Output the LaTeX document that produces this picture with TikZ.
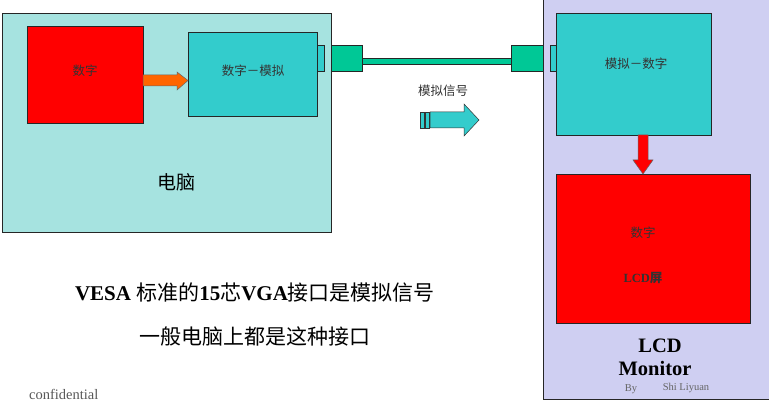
\documentclass[tikz,border=0pt]{standalone}
\usepackage{fontspec}
\setmainfont{Liberation Serif}
\newfontfamily\cjk{Noto Sans CJK SC}
\begin{document}
\begin{tikzpicture}[x=1pt,y=-1pt,
  box/.style={draw=black!85,line width=0.8pt,inner sep=0pt,outer sep=0pt},
  lbl/.style={inner sep=0pt,font=\cjk\fontsize{12.5}{14}\selectfont,text=black!80}]
\definecolor{pcbg}{HTML}{A6E3E0}
\definecolor{monbg}{HTML}{CFCFF2}
\definecolor{cyanbox}{HTML}{33CCCC}
\definecolor{conn}{HTML}{00C896}
\definecolor{orangearr}{HTML}{FF6600}
\useasboundingbox (0,0) rectangle (769,403);
\begin{scope}
\clip (0,0) rectangle (769,403);
\fill[white] (0,0) rectangle (769,403);
% computer
\node[box,fill=pcbg,minimum width=329pt,minimum height=219pt,anchor=north west] (pc) at (2,13) {};
\node[inner sep=0pt,font=\cjk\fontsize{19}{22}\selectfont] (pclbl) at (176,182) {电脑};
\node[box,fill=red,minimum width=116pt,minimum height=97pt,anchor=north west] (dig) at (27,26) {};
\node[lbl] (diglbl) at (85,71) {数字};
\node[box,fill=cyanbox,minimum width=129pt,minimum height=84pt,anchor=north west] (da) at (188,32) {};
\node[lbl] (dalbl) at (253,71) {数字－模拟};
\node[box,fill=cyanbox,minimum width=7pt,minimum height=26pt,anchor=north west] (tab1) at (317,45) {};
% orange arrow
\filldraw[fill=orangearr,draw=black!60,line width=0.5pt]
  (143,75) -- (177,75) -- (177,72) -- (188,80.5) -- (177,90) -- (177,86) -- (143,86) -- cycle;
% monitor
\node[box,fill=monbg,minimum width=240pt,minimum height=410pt,anchor=south west] (mon) at (543,399) {};
\node[box,fill=cyanbox,minimum width=155pt,minimum height=122pt,anchor=north west] (ad) at (556,13) {};
\node[lbl] (adlbl) at (636,64) {模拟－数字};
\node[box,fill=cyanbox,minimum width=6pt,minimum height=26pt,anchor=north west] (tab2) at (550,45) {};
\node[box,fill=red,minimum width=194pt,minimum height=149pt,anchor=north west] (lcd) at (556,174) {};
\node[lbl] (lcdl1) at (643,233) {数字};
\node[inner sep=0pt,font=\bfseries\fontsize{12.5}{14}\selectfont,text=black!80] (lcdl2) at (643,278) {LCD{\cjk 屏}};
% red down arrow
\filldraw[fill=red,draw=black!60,line width=0.5pt]
  (638,135) -- (648,135) -- (648,160) -- (653,160) -- (643,174) -- (633,160) -- (638,160) -- cycle;
\node[inner sep=0pt,font=\bfseries\fontsize{20.5}{22}\selectfont] (lcdt) at (660,346) {LCD};
\node[inner sep=0pt,font=\bfseries\fontsize{20.5}{22}\selectfont] (mont) at (655,368) {Monitor};
\node[inner sep=0pt,font=\fontsize{10.5}{12}\selectfont,text=black!60] (by) at (631,389) {By};
\node[inner sep=0pt,font=\fontsize{10.5}{12}\selectfont,text=black!60] (author) at (686,388) {Shi Liyuan};
% connectors and cable
\node[box,fill=conn,minimum width=31pt,minimum height=26pt,anchor=north west] (c1) at (331,45) {};
\node[box,fill=conn,minimum width=32pt,minimum height=26pt,anchor=north west] (c2) at (511,45) {};
\draw[box,fill=conn] (c1.east |- 0,58) rectangle (c2.west |- 0,64);
% signal arrow
\node[lbl] (sig) at (443,91) {模拟信号};
\filldraw[fill=cyanbox,draw=black!80,line width=0.5pt] (420,112) rectangle (424,128);
\filldraw[fill=cyanbox,draw=black!80,line width=0.5pt] (425,112) rectangle (429,128);
\filldraw[fill=cyanbox,draw=black!80,line width=0.5pt]
  (430,112) -- (464,112) -- (464,104) -- (479,120) -- (464,136) -- (464,128) -- (430,128) -- cycle;
% bottom texts
\node[inner sep=0pt,font=\fontsize{21}{24}\selectfont] (t1) at (255,293) {\textbf{VESA} {\cjk 标准的}\textbf{15}{\cjk 芯}\textbf{VGA}{\cjk 接口是模拟信号}};
\node[inner sep=0pt,font=\cjk\fontsize{21}{24}\selectfont] (t2) at (255,337) {一般电脑上都是这种接口};
\node[inner sep=0pt,font=\fontsize{14.5}{16}\selectfont,text=black!65,anchor=west] (conf) at (29,394) {confidential};
\end{scope}
\end{tikzpicture}
\end{document}
